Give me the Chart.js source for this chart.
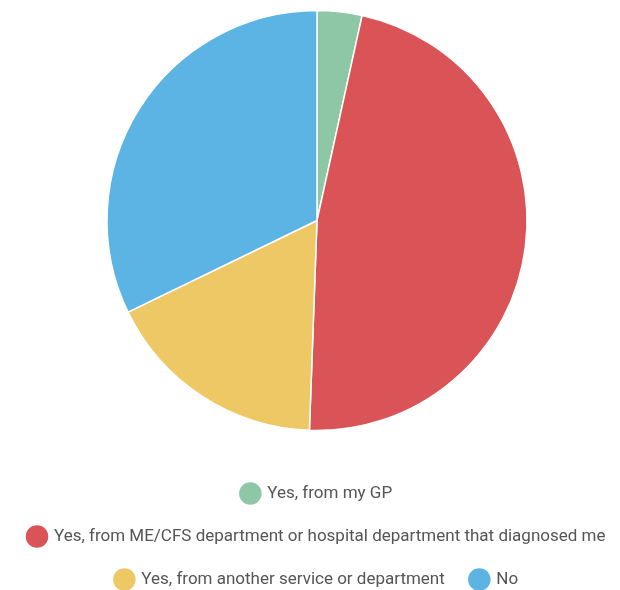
<!DOCTYPE html>
<html>
<head>
<meta charset="utf-8">
<script src="https://cdn.jsdelivr.net/npm/chart.js@4/dist/chart.umd.min.js"></script>
<style>
  html, body { margin: 0; padding: 0; background: #fff; }
  #wrap { width: 620px; height: 590px; }
</style>
</head>
<body>
<div id="wrap"><canvas id="c" width="620" height="590"></canvas></div>
<script>
const categories = [
  "Yes, from my GP",
  "Yes, from ME/CFS department or hospital department that diagnosed me",
  "Yes, from another service or department",
  "No"
];
const responses = [3, 41, 15, 28];
const sliceColors = ["#8dc7a5", "#da5357", "#eec864", "#5cb4e4"];

new Chart(document.getElementById("c"), {
  type: "pie",
  data: {
    labels: categories,
    datasets: [{
      data: responses,
      backgroundColor: sliceColors,
      borderColor: "#ffffff",
      borderWidth: 1.5,
      radius: 210
    }]
  },
  options: {
    responsive: false,
    animation: false,
    layout: { padding: { top: 0, left: 14, right: 0, bottom: -8 } },
    plugins: {
      tooltip: { enabled: false },
      legend: {
        position: "bottom",
        // empty title only reserves a gap between the pie and the legend rows
        title: { display: true, text: "", font: { size: 10 }, padding: 3 },
        labels: {
          usePointStyle: true,
          pointStyle: "circle",
          boxWidth: 18,
          boxHeight: 18,
          padding: 26,
          color: "#555555",
          font: { family: "Roboto", size: 17 }
        }
      }
    }
  }
});
</script>
</body>
</html>
